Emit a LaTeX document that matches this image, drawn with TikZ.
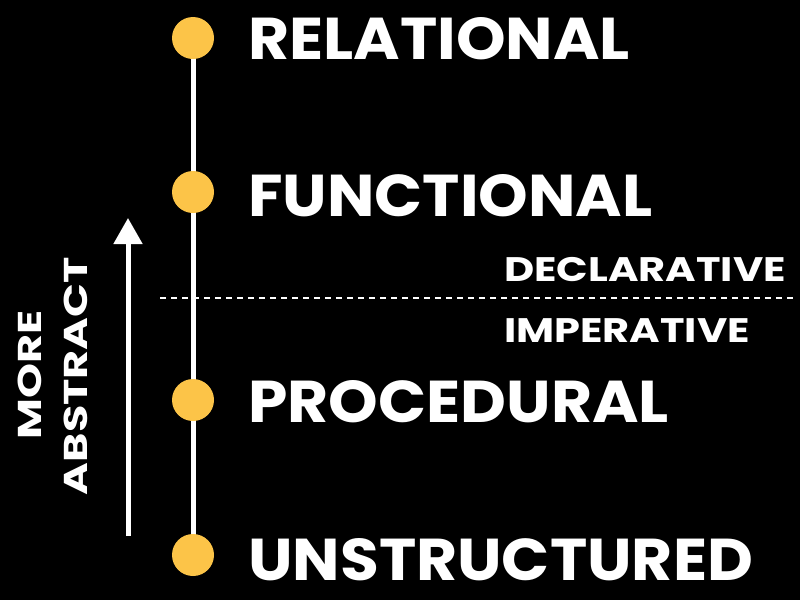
\documentclass[tikz,border=0pt]{standalone}
\usepackage{fontspec}
\setmainfont{Poppins}[UprightFont=* Bold]
\usetikzlibrary{arrows.meta}
\begin{document}
\begin{tikzpicture}[x=1pt,y=-1pt,
  dot/.style={circle,minimum size=42pt,inner sep=0pt},
  big/.style={anchor=west,text=white,font=\fontsize{59}{59}\selectfont,inner sep=0pt},
  mid/.style={anchor=west,text=white,font=\fontsize{34}{34}\selectfont,inner sep=0pt}]
\fill[black] (0,0) rectangle (800,600);
\useasboundingbox (0,0) rectangle (800,600);
\definecolor{gold}{RGB}{252,196,72}
\draw[white,line width=5pt] (193,38) -- (193,555);
\node[dot,fill=gold] (r) at (193,38) {};
\node[dot,fill=gold] (f) at (193,192) {};
\node[dot,fill=gold] (p) at (193,400) {};
\node[dot,fill=gold] (u) at (193,555) {};
\node[big] (tr) at (248,39) {\scalebox{1.07}[1]{RELATIONAL}};
\node[big] (tf) at (248,196) {\scalebox{1.07}[1]{FUNCTIONAL}};
\node[big] (tp) at (248,402) {\scalebox{1.07}[1]{PROCEDURAL}};
\node[big] (tu) at (248,560) {\scalebox{1.07}[1]{UNSTRUCTURED}};
\coordinate (d1) at (160,298);
\coordinate (d2) at (795,298);
\draw[white,line width=2.5pt,dash pattern=on 6pt off 5pt] (d1) -- (d2);
\node[mid] (dc) at (504,270) {\scalebox{1.22}[1]{DECLARATIVE}};
\node[mid] (im) at (504,331) {\scalebox{1.22}[1]{IMPERATIVE}};
\coordinate (a1) at (128,536);
\coordinate (a2) at (128,218);
\draw[white,line width=5pt,-{Triangle[length=26pt,width=28pt]}] (a1) -- (a2);
\node[text=white,rotate=90,inner sep=0pt,font=\fontsize{33}{33}\selectfont] (m1) at (30,375) {\scalebox{1.35}[1]{MORE}};
\node[text=white,rotate=90,inner sep=0pt,font=\fontsize{33}{33}\selectfont] (m2) at (76,376) {\scalebox{1.35}[1]{ABSTRACT}};
\end{tikzpicture}
\end{document}
